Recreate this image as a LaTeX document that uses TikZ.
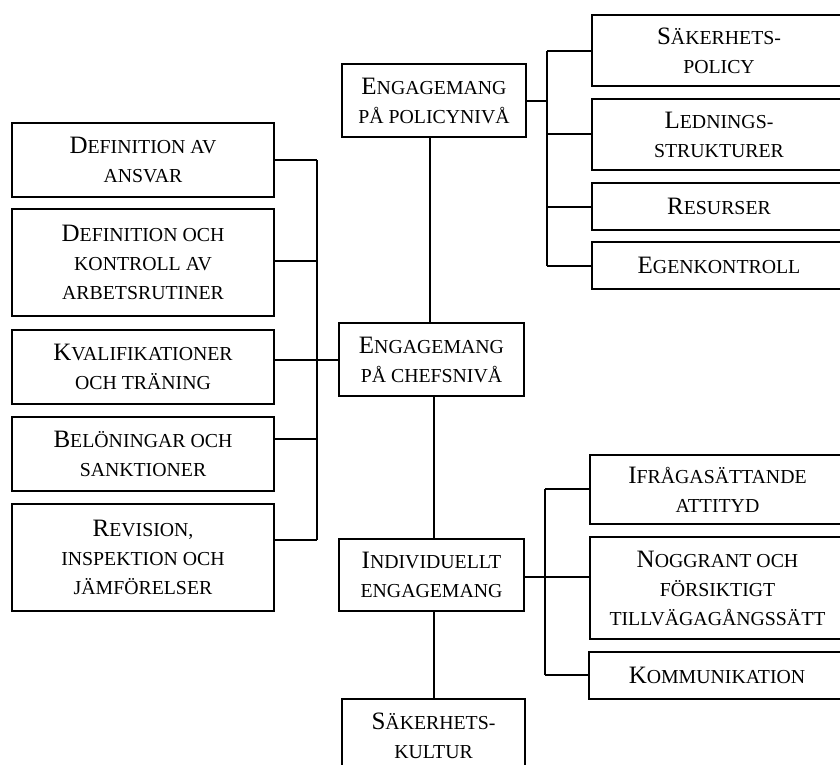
\documentclass[tikz,border=0pt]{standalone}
\usepackage{fontspec}
\setmainfont{Liberation Serif}
% first letter at full size, the rest as small capitals
\newcommand{\kap}[1]{{\fontsize{25}{29}\selectfont #1}}
\begin{document}
\begin{tikzpicture}[x=1pt,y=-1pt,
  box/.style={draw, line width=2pt, rectangle, inner sep=0pt, align=center,
              font=\fontsize{19.8}{29}\selectfont},
  link/.style={line width=2pt}]
\clip (0,0) rectangle (840,764);
\fill[white] (0,0) rectangle (840,764);

% central column
\node[box, minimum width=184, minimum height=73] (policy) at (434,100.5) {\kap{E}NGAGEMANG\\PÅ POLICYNIVÅ};
\node[box, minimum width=185, minimum height=73] (chefs) at (431.5,359.5) {\kap{E}NGAGEMANG\\PÅ CHEFSNIVÅ};
\node[box, minimum width=185, minimum height=72] (indiv) at (431.5,575) {\kap{I}NDIVIDUELLT\\ENGAGEMANG};
\node[box, minimum width=183, minimum height=73] (kultur) at (433.5,735.5) {\kap{S}ÄKERHETS-\\KULTUR};

% left column
\node[box, minimum width=262, minimum height=74] (l1) at (143,160) {\kap{D}EFINITION AV\\ANSVAR};
\node[box, minimum width=262, minimum height=107] (l2) at (143,262.5) {\kap{D}EFINITION OCH\\KONTROLL AV\\ARBETSRUTINER};
\node[box, minimum width=262, minimum height=74] (l3) at (143,367) {\kap{K}VALIFIKATIONER\\OCH TRÄNING};
\node[box, minimum width=262, minimum height=74] (l4) at (143,454) {\kap{B}ELÖNINGAR OCH\\SANKTIONER};
\node[box, minimum width=262, minimum height=107] (l5) at (143,557.5) {\kap{R}EVISION,\\INSPEKTION OCH\\JÄMFÖRELSER};

% upper right column
\node[box, minimum width=254, minimum height=71] (r1) at (719,50.5) {\kap{S}ÄKERHETS-\\POLICY};
\node[box, minimum width=254, minimum height=71] (r2) at (719,134.5) {\kap{L}EDNINGS-\\STRUKTURER};
\node[box, minimum width=254, minimum height=47] (r3) at (719,206.5) {\kap{R}ESURSER};
\node[box, minimum width=254, minimum height=47] (r4) at (719,265.5) {\kap{E}GENKONTROLL};

% lower right column
\node[box, minimum width=255, minimum height=69] (b1) at (717.5,489.5) {\kap{I}FRÅGASÄTTANDE\\ATTITYD};
\node[box, minimum width=255, minimum height=102] (b2) at (717.5,588) {\kap{N}OGGRANT OCH\\FÖRSIKTIGT\\TILLVÄGAGÅNGSSÄTT};
\node[box, minimum width=256, minimum height=47] (b3) at (717,675.5) {\kap{K}OMMUNIKATION};

% spine and bus coordinates
\coordinate (sp1) at (430,0);
\coordinate (sp2) at (434,0);
\coordinate (lb1) at (317,160);
\coordinate (lb2) at (317,261);
\coordinate (lb3) at (317,360);
\coordinate (lb4) at (317,439);
\coordinate (lb5) at (317,540);
\coordinate (rb0) at (547,101);
\coordinate (rb1) at (547,51);
\coordinate (rb2) at (547,134);
\coordinate (rb3) at (547,207);
\coordinate (rb4) at (547,266);
\coordinate (bb0) at (545,577);
\coordinate (bb1) at (545,489);
\coordinate (bb2) at (545,577);
\coordinate (bb3) at (545,675);

% vertical spine
\draw[link] (sp1 |- policy.south) -- (sp1 |- chefs.north);
\draw[link] (sp2 |- chefs.south) -- (sp2 |- indiv.north);
\draw[link] (sp2 |- indiv.south) -- (sp2 |- kultur.north);

% left bus
\draw[link] (lb1) -- (lb5);
\draw[link] (l1.east |- lb1) -- (lb1);
\draw[link] (l2.east |- lb2) -- (lb2);
\draw[link] (l3.east |- lb3) -- (chefs.west |- lb3);
\draw[link] (l4.east |- lb4) -- (lb4);
\draw[link] (l5.east |- lb5) -- (lb5);

% upper right bus
\draw[link] (policy.east |- rb0) -- (rb0);
\draw[link] (rb1) -- (rb4);
\draw[link] (rb1) -- (r1.west |- rb1);
\draw[link] (rb2) -- (r2.west |- rb2);
\draw[link] (rb3) -- (r3.west |- rb3);
\draw[link] (rb4) -- (r4.west |- rb4);

% lower right bus
\draw[link] (indiv.east |- bb0) -- (bb0);
\draw[link] (bb1) -- (bb3);
\draw[link] (bb1) -- (b1.west |- bb1);
\draw[link] (bb2) -- (b2.west |- bb2);
\draw[link] (bb3) -- (b3.west |- bb3);
\end{tikzpicture}
\end{document}
